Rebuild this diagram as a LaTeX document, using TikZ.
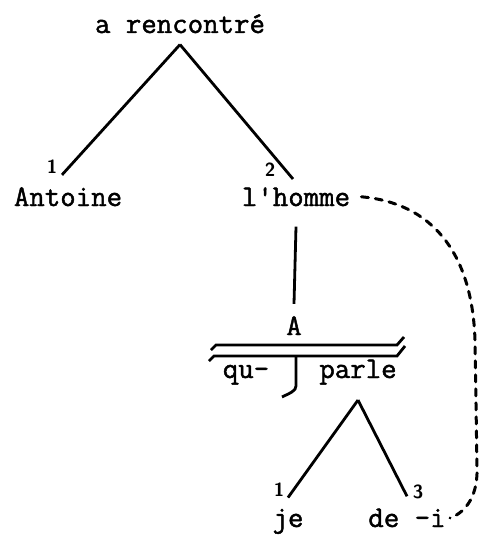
\documentclass[tikz,border=0pt]{standalone}
\usepackage{fontspec}
\newfontfamily\tw[FakeBold=1.5]{Latin Modern Mono}

\tikzset{every picture/.style={line width=2.8pt}}
\tikzset{
  word/.style={anchor=base, inner sep=0pt, font=\tw\fontsize{30}{32}\selectfont},
  num/.style={inner sep=0pt, font=\sffamily\bfseries\fontsize{19}{19}\selectfont},
  link/.style={dash pattern={on 7pt off 7pt}, line width=3pt, line cap=round}
}

\begin{document}
\begin{tikzpicture}[x=1pt,y=1pt,yscale=-1,xscale=1]
\useasboundingbox (0,0) rectangle (482,535);

% Text Node
\node [word] (rc) at (180,33) {a rencontré};
% Text Node
\node [word] (ant) at (68,206) {Antoine};
% Text Node
\node [word] (hom) at (296,206) {l'homme};
% Text Node
\node [word] (a) at (294,335) {A};
% Text Node
\node [word] (qu) at (246,378) {qu-};
% Text Node
\node [word] (parle) at (358,378) {parle};
% Text Node
\node [word] (je) at (288,527) {je};
% Text Node
\node [word] (dei) at (407,527) {de -i};

% Text Node
\node [num] (n1) at (52,167) {1};
% Text Node
\node [num] (n2) at (270,170) {2};
% Text Node
\node [num] (n3) at (279,490) {1};
% Text Node
\node [num] (n4) at (418,492) {3};

%Straight Lines
\draw ([yshift=10pt]rc.south) -- ([shift={(-6pt,-11pt)}]ant.north) ;
\draw ([yshift=10pt]rc.south) -- ([shift={(-3pt,-7pt)}]hom.north) ;
%Straight Lines
\draw ([yshift=19pt]hom.south) -- ([yshift=-11pt]a.north) ;

%Double bar
\draw (211,350) -- (216,345) -- (397,345) -- (404,337) ;
\draw (209,361) -- (214,356) -- (397,356) -- (405,346) ;
%Bracket
\draw (296,356) -- (296,386) .. controls (296,391) and (290,393) .. (282,397) ;

%Straight Lines
\draw ([yshift=14pt]parle.south) -- ([yshift=-10pt]je.north) ;
\draw ([yshift=14pt]parle.south) -- ([yshift=-11pt]dei.north) ;

%Dashed link
\draw [link] ([xshift=10pt]hom.east) .. controls (430,203) and (472,250) .. (475,340)
  -- (477,468) .. controls (478,500) and (462,514) .. ([xshift=3pt]dei.east) ;

\end{tikzpicture}
\end{document}
